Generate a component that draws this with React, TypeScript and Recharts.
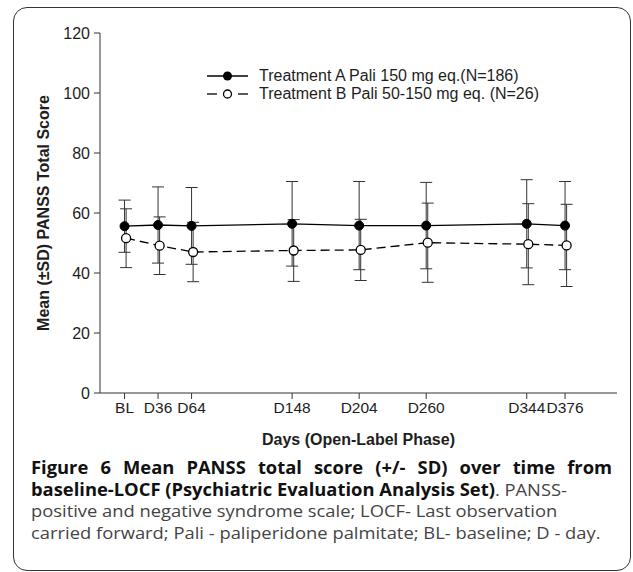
import React from 'react';
import { LineChart, Line, XAxis, YAxis, ErrorBar } from 'recharts';

// days on the open-label time axis and their labels
const days = [8, 36, 64, 148, 204, 260, 344, 376];
const dayLabels = ['BL', 'D36', 'D64', 'D148', 'D204', 'D260', 'D344', 'D376'];

// Treatment A Pali 150 mg eq. (N=186)
const meanA = [55.6, 56.0, 55.7, 56.4, 55.8, 55.8, 56.4, 55.8];
const sdA = [8.7, 12.7, 12.8, 14.1, 14.7, 14.4, 14.7, 14.7];

// Treatment B Pali 50-150 mg eq. (N=26)
const meanB = [51.6, 49.1, 47.0, 47.5, 47.7, 50.1, 49.6, 49.2];
const sdB = [9.8, 9.6, 9.9, 10.3, 10.2, 13.2, 13.5, 13.7];

const yTicks = [0, 20, 40, 60, 80, 100, 120];

const seriesA = days.map((d, i) => ({ day: d, mean: meanA[i], sd: sdA[i] }));
const seriesB = days.map((d, i) => ({ day: d, mean: meanB[i], sd: sdB[i] }));

const FONT = '"Liberation Sans", Arial, Helvetica, sans-serif';
const CAPTION_FONT = '"Open Sans", "Noto Sans", sans-serif';
const INK = '#1e1e1e';

const labelFor = (v: number) => {
  const i = days.indexOf(v);
  return i >= 0 ? dayLabels[i] : String(v);
};

// rotated y-axis title, centred on the axis box
const YTitle = (props: any) => {
  const vb = props.viewBox || {};
  const cx = 43;
  const cy = (vb.y ?? 33) + (vb.height ?? 360) / 2;
  return (
    <text
      x={cx}
      y={cy}
      transform={`rotate(-90, ${cx}, ${cy})`}
      textAnchor="middle"
      dominantBaseline="central"
      fill={INK}
      fontSize={16}
      fontWeight={700}
      fontFamily={FONT}
    >
      Mean (±SD) PANSS Total Score
    </text>
  );
};

const Legendish = () => (
  <div style={{ position: 'absolute', left: 205, top: 67, fontFamily: FONT, fontSize: 16, color: INK, lineHeight: '18px' }}>
    <div style={{ display: 'flex', alignItems: 'center', height: 18 }}>
      <svg width={54} height={18}>
        <line x1={2} x2={43} y1={9} y2={9} stroke="#000" strokeWidth={1.3} />
        <circle cx={22.5} cy={9} r={4.5} fill="#000" />
      </svg>
      <span>Treatment A Pali 150 mg eq.(N=186)</span>
    </div>
    <div style={{ display: 'flex', alignItems: 'center', height: 18 }}>
      <svg width={54} height={18}>
        <line x1={2} x2={12} y1={9} y2={9} stroke="#000" strokeWidth={1.3} />
        <line x1={33} x2={43} y1={9} y2={9} stroke="#000" strokeWidth={1.3} />
        <circle cx={22.5} cy={9} r={4} fill="#fff" stroke="#000" strokeWidth={1.3} />
      </svg>
      <span>Treatment B Pali 50-150 mg eq. (N=26)</span>
    </div>
  </div>
);

export default function App() {
  return (
    <div style={{ position: 'absolute', left: 0, top: 0, width: 633, height: 572, background: '#fff', overflow: 'hidden' }}>
      {/* rounded frame round the figure */}
      <div
        style={{
          position: 'absolute',
          left: 13,
          top: 7,
          width: 618,
          height: 564,
          border: '1.5px solid #333',
          borderRadius: 14,
          boxSizing: 'border-box',
        }}
      />

      <div style={{ position: 'absolute', left: 0, top: 0 }}>
        <LineChart width={633} height={460} margin={{ top: 33, right: 16, left: 0, bottom: 7 }}>
          <XAxis
            xAxisId="a"
            dataKey="day"
            type="number"
            domain={[-12.5, 419.4]}
            ticks={days}
            interval={0}
            tickFormatter={labelFor}
            height={60}
            tickSize={6}
            tickMargin={3}
            stroke="#333"
            tick={{ fill: INK, fontSize: 15.5, fontFamily: FONT }}
            label={{
              value: 'Days (Open-Label Phase)',
              position: 'insideBottom',
              offset: 8,
              style: { fill: INK, fontSize: 16, fontWeight: 700, fontFamily: FONT },
            }}
          />
          {/* same scale, nudged a little so the B error bars sit beside the A ones */}
          <XAxis xAxisId="b" dataKey="day" type="number" domain={[-13.8, 418.1]} hide />
          <YAxis
            type="number"
            domain={[0, 120]}
            ticks={yTicks}
            interval={0}
            width={100}
            tickSize={6}
            tickMargin={4}
            stroke="#333"
            tick={{ fill: INK, fontSize: 16, fontFamily: FONT }}
            label={{ content: YTitle }}
          />
          <Line
            xAxisId="b"
            data={seriesB}
            dataKey="mean"
            name="Treatment B"
            stroke="#000"
            strokeWidth={1.3}
            strokeDasharray="9 5"
            dot={{ r: 4.5, fill: '#fff', stroke: '#000', strokeWidth: 1.3, strokeDasharray: 'none' }}
            isAnimationActive={false}
          >
            <ErrorBar dataKey="sd" direction="y" width={6} stroke="#333" strokeWidth={1} isAnimationActive={false} />
          </Line>
          <Line
            xAxisId="a"
            data={seriesA}
            dataKey="mean"
            name="Treatment A"
            stroke="#000"
            strokeWidth={1.3}
            dot={{ r: 4.5, fill: '#000', stroke: '#000', strokeWidth: 1 }}
            isAnimationActive={false}
          >
            <ErrorBar dataKey="sd" direction="y" width={6} stroke="#333" strokeWidth={1} isAnimationActive={false} />
          </Line>
        </LineChart>
      </div>

      <Legendish />

      {/* caption */}
      <div
        style={{
          position: 'absolute',
          left: 31,
          top: 457,
          width: 538,
          transform: 'scaleX(1.08)',
          transformOrigin: '0 0',
          fontFamily: CAPTION_FONT,
          fontSize: 17,
          lineHeight: '21.5px',
          color: '#444',
        }}
      >
        <div style={{ textAlign: 'justify', textAlignLast: 'justify', fontWeight: 700, color: '#111', whiteSpace: 'nowrap' }}>
          Figure 6 Mean PANSS total score (+/- SD) over time from
        </div>
        <div style={{ whiteSpace: 'nowrap' }}>
          <span style={{ fontWeight: 700, color: '#111' }}>baseline-LOCF (Psychiatric Evaluation Analysis Set)</span>. PANSS-
        </div>
        <div style={{ whiteSpace: 'nowrap' }}>positive and negative syndrome scale; LOCF- Last observation</div>
        <div style={{ whiteSpace: 'nowrap' }}>carried forward; Pali - paliperidone palmitate; BL- baseline; D - day.</div>
      </div>
    </div>
  );
}
